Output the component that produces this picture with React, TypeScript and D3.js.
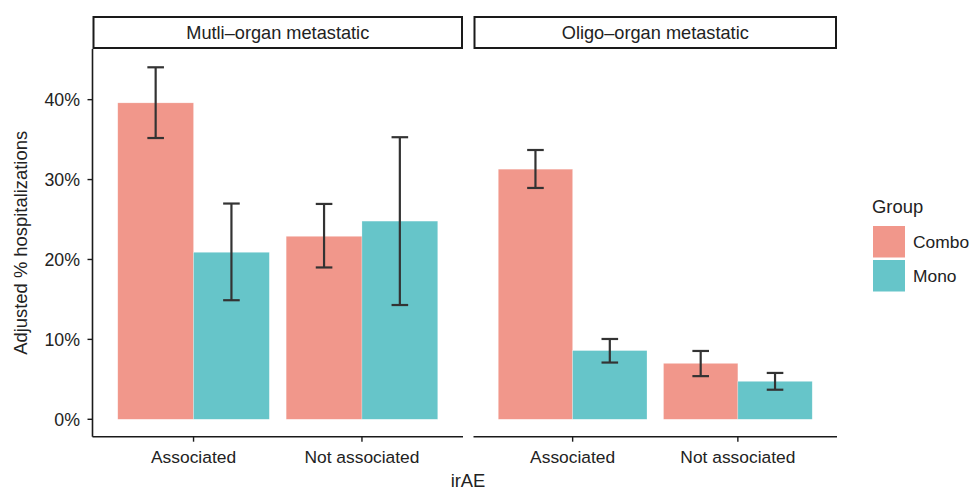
import React from 'react'
import { scaleBand, scaleLinear, scaleOrdinal, format } from 'd3'

// facets, categories and groups
const panels = ['Mutli\u2013organ metastatic', 'Oligo\u2013organ metastatic']
const irae = ['Associated', 'Not associated']
const groups = ['Combo', 'Mono']

// order: panel -> irAE -> group
const estimate = [0.396, 0.209, 0.229, 0.248, 0.313, 0.086, 0.070, 0.0475]
const lower = [0.352, 0.149, 0.190, 0.143, 0.2895, 0.071, 0.054, 0.037]
const upper = [0.4405, 0.270, 0.2695, 0.353, 0.337, 0.1005, 0.0855, 0.058]

const yTicks = [0, 0.1, 0.2, 0.3, 0.4]

const W = 974
const H = 491
const panelX = [[92.5, 463], [473.5, 837]]
const top = 49
const bottom = 436.7
const stripTop = 16
const font = '"Liberation Sans", Arial, Helvetica, sans-serif'
const ink = '#222'

function App() {
  const y = scaleLinear().domain([-0.0218, 0.4634]).range([bottom, top])
  const color = scaleOrdinal<string, string>().domain(groups).range(['#F1978B', '#66C5C9'])
  const pct = format('.0%')

  const rows = panels.flatMap((p, pi) =>
    irae.flatMap((c, ci) =>
      groups.map((g, gi) => {
        const i = pi * 4 + ci * 2 + gi
        return { panel: pi, irae: c, group: g, est: estimate[i], lo: lower[i], hi: upper[i] }
      })
    )
  )

  return (
    <div style={{ position: 'absolute', left: 0, top: 0 }}>
      <svg width={W} height={H} style={{ display: 'block', fontFamily: font }}>
        <rect width={W} height={H} fill="white" />
        {panels.map((p, pi) => {
          const [x0, x1] = panelX[pi]
          const x = scaleBand().domain(irae).range([x0, x1]).paddingInner(0.1).paddingOuter(0.15)
          const xg = scaleBand().domain(groups).range([0, x.bandwidth()])
          const bars = rows.filter(r => r.panel === pi)
          return (
            <g key={p}>
              {/* strip */}
              <rect x={x0 + 1} y={stripTop + 1} width={x1 - x0 - 2} height={top - stripTop - 2}
                fill="white" stroke="#1a1a1a" strokeWidth={2} />
              <text x={(x0 + x1) / 2} y={39.3} textAnchor="middle" fontSize={18.2} fill={ink}>{p}</text>

              {/* bars */}
              {bars.map(d => (
                <rect key={d.irae + d.group}
                  x={(x(d.irae) as number) + (xg(d.group) as number)}
                  y={y(d.est)}
                  width={xg.bandwidth()}
                  height={y(0) - y(d.est)}
                  fill={color(d.group)}
                  stroke="white" strokeOpacity={0.4} strokeWidth={0.6} />
              ))}

              {/* error bars */}
              {bars.map(d => {
                const cx = (x(d.irae) as number) + (xg(d.group) as number) + xg.bandwidth() / 2
                const hw = 8.3
                return (
                  <g key={'e' + d.irae + d.group} stroke="#333" strokeWidth={2.2}>
                    <line x1={cx} x2={cx} y1={y(d.hi)} y2={y(d.lo)} />
                    <line x1={cx - hw} x2={cx + hw} y1={y(d.hi)} y2={y(d.hi)} />
                    <line x1={cx - hw} x2={cx + hw} y1={y(d.lo)} y2={y(d.lo)} />
                  </g>
                )
              })}

              {/* x axis */}
              <line x1={x0} x2={x1} y1={bottom} y2={bottom} stroke="#1a1a1a" strokeWidth={1.6} />
              {irae.map(c => {
                const tx = (x(c) as number) + x.bandwidth() / 2
                return (
                  <g key={'t' + c}>
                    <line x1={tx} x2={tx} y1={bottom} y2={bottom + 5} stroke="#1a1a1a" strokeWidth={1.4} />
                    <text x={tx} y={463} textAnchor="middle" fontSize={17.4} fill={ink}>{c}</text>
                  </g>
                )
              })}
            </g>
          )
        })}

        {/* y axis (left panel only) */}
        <line x1={panelX[0][0]} x2={panelX[0][0]} y1={top} y2={bottom} stroke="#1a1a1a" strokeWidth={1.6} />
        {yTicks.map(t => (
          <g key={t}>
            <line x1={panelX[0][0] - 5} x2={panelX[0][0]} y1={y(t)} y2={y(t)} stroke="#1a1a1a" strokeWidth={1.4} />
            <text x={80} y={y(t)} dy="0.36em" textAnchor="end" fontSize={17.8} fill={ink}>{pct(t)}</text>
          </g>
        ))}

        {/* axis titles */}
        <text x={468} y={486.5} textAnchor="middle" fontSize={18.4} fill={ink}>irAE</text>
        <text transform={`translate(26.5,${(top + bottom) / 2}) rotate(-90)`} textAnchor="middle"
          fontSize={18.4} fill={ink}>Adjusted % hospitalizations</text>

        {/* legend */}
        <text x={872} y={213} fontSize={18.4} fill={ink}>Group</text>
        {groups.map((g, i) => (
          <g key={g} transform={`translate(873,${226 + i * 34})`}>
            <rect width={32} height={31.5} fill={color(g)} />
            <text x={40} y={22.3} fontSize={17.4} fill={ink}>{g}</text>
          </g>
        ))}
      </svg>
    </div>
  )
}

export default App
